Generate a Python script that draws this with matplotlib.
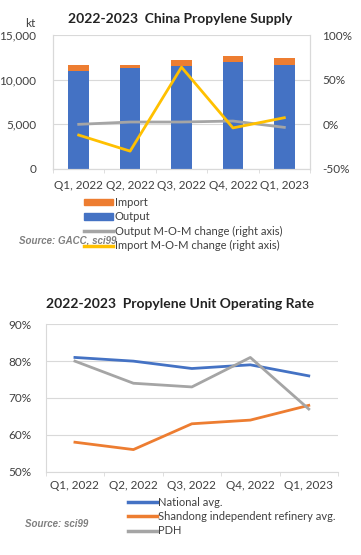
import numpy as np
import matplotlib.pyplot as plt
from matplotlib.ticker import FuncFormatter
from matplotlib.patches import Patch
from matplotlib.lines import Line2D

plt.rcParams['font.family'] = ['Lato', 'DejaVu Sans']

# Данные: поставки пропилена
quarters = ["Q1, 2022", "Q2, 2022", "Q3, 2022", "Q4, 2022", "Q1, 2023"]
output_kt = [10970, 11350, 11530, 12010, 11640]
import_kt = [670, 290, 670, 640, 780]
output_mom = [0.0, 2.6, 2.6, 3.7, -3.4]
import_mom = [-12.0, -30.0, 64.0, -4.0, 7.4]

# Данные: загрузка мощностей
national = [81, 80, 78, 79, 76]
shandong = [58, 56, 63, 64, 68]
pdh = [80, 74, 73, 81, 67]

BLUE = "#4472C4"
ORANGE = "#ED7D31"
GRAY = "#A5A5A5"
YELLOW = "#FFC000"
GRID = "#D9D9D9"
TXT = "#404040"

fig = plt.figure(figsize=(3.61, 5.55), dpi=100)

# --- Верхний график ---
ax1 = fig.add_axes([0.1468, 0.6955, 0.712, 0.2414])
x = np.arange(len(quarters))
ax1.bar(x, output_kt, width=0.4, color=BLUE, zorder=2)
ax1.bar(x, import_kt, bottom=output_kt, width=0.4, color=ORANGE, zorder=2)
ax1.set_xlim(-0.5, len(quarters) - 0.5)
ax1.set_ylim(0, 15000)
ax1.set_yticks([0, 5000, 10000, 15000])
ax1.yaxis.set_major_formatter(FuncFormatter(lambda v, p: f"{int(v):,}"))
ax1.grid(axis="y", color=GRID, lw=0.8, zorder=0)
ax1.set_xticks(x)
ax1.set_xticklabels(quarters)
ax1.set_xticks(np.arange(-0.5, len(quarters)), minor=True)
ax1.tick_params(axis="x", which="major", length=0, pad=8, labelsize=8.5, colors=TXT)
ax1.tick_params(axis="x", which="minor", length=3, color=GRID)
ax1.tick_params(axis="y", length=0, labelsize=8.5, colors=TXT, pad=12)
ax1.spines["top"].set_visible(False)
for s in ["left", "right", "bottom"]:
    ax1.spines[s].set_color(GRID)

ax1r = ax1.twinx()
ax1r.plot(x, output_mom, color=GRAY, lw=2, zorder=3)
ax1r.plot(x, import_mom, color=YELLOW, lw=2, zorder=4)
ax1r.set_ylim(-50, 100)
ax1r.set_yticks([-50, 0, 50, 100])
ax1r.yaxis.set_major_formatter(FuncFormatter(lambda v, p: f"{int(v)}%"))
ax1r.tick_params(axis="y", length=0, labelsize=8.5, colors=TXT, pad=9)
ax1r.spines["top"].set_visible(False)
for s in ["left", "right", "bottom"]:
    ax1r.spines[s].set_color(GRID)

fig.text(0.5, 0.966, "2022-2023  China Propylene Supply", ha="center", va="center",
         fontsize=10, fontweight="bold", color="#222222")
fig.text(0.07, 0.957, "kt", ha="left", va="center", fontsize=8.5, color=TXT)

h1 = [Patch(color=ORANGE), Patch(color=BLUE),
      Line2D([], [], color=GRAY, lw=2.5), Line2D([], [], color=YELLOW, lw=2.5)]
l1 = ["Import", "Output", "Output M-O-M change (right axis)", "Import M-O-M change (right axis)"]
fig.legend(h1, l1, loc="upper left", bbox_to_anchor=(0.232, 0.645), frameon=False,
           fontsize=8, labelspacing=0.3, handlelength=2.6, handleheight=0.5,
           handletextpad=0.2, borderaxespad=0, borderpad=0,
           labelcolor=TXT)
fig.text(0.052, 0.567, "Source: GACC, sci99", ha="left", va="center", fontsize=7,
         fontstyle="italic", fontweight="bold", color="#7F7F7F", family="Liberation Sans")

# --- Нижний график ---
ax2 = fig.add_axes([0.1266, 0.1501, 0.8097, 0.2656])
ax2.plot(x, national, color=BLUE, lw=2, zorder=3)
ax2.plot(x, shandong, color=ORANGE, lw=2, zorder=3)
ax2.plot(x, pdh, color=GRAY, lw=2, zorder=3)
ax2.set_xlim(-0.5, len(quarters) - 0.5)
ax2.set_ylim(50, 90)
ax2.set_yticks([50, 60, 70, 80, 90])
ax2.yaxis.set_major_formatter(FuncFormatter(lambda v, p: f"{int(v)}%"))
ax2.grid(axis="y", color=GRID, lw=0.8, zorder=0)
ax2.set_xticks(x)
ax2.set_xticklabels(quarters)
ax2.set_xticks(np.arange(-0.5, len(quarters)), minor=True)
ax2.tick_params(axis="x", which="major", length=0, pad=6, labelsize=8.5, colors=TXT)
ax2.tick_params(axis="x", which="minor", length=3, color=GRID)
ax2.tick_params(axis="y", length=0, labelsize=8.5, colors=TXT, pad=10)
for s in ["top", "right"]:
    ax2.spines[s].set_visible(False)
for s in ["left", "bottom"]:
    ax2.spines[s].set_color(GRID)

fig.text(0.5, 0.452, "2022-2023  Propylene Unit Operating Rate", ha="center", va="center",
         fontsize=10, fontweight="bold", color="#222222")

h2 = [Line2D([], [], color=BLUE, lw=2.5), Line2D([], [], color=ORANGE, lw=2.5),
      Line2D([], [], color=GRAY, lw=2.5)]
l2 = ["National avg.", "Shandong independent refinery avg.", "PDH"]
fig.legend(h2, l2, loc="upper left", bbox_to_anchor=(0.355, 0.105), frameon=False,
           fontsize=8, labelspacing=0.3, handlelength=2.6,
           handletextpad=0.05, borderaxespad=0, borderpad=0, labelcolor=TXT)
fig.text(0.07, 0.056, "Source: sci99", ha="left", va="center", fontsize=7,
         fontstyle="italic", fontweight="bold", color="#7F7F7F", family="Liberation Sans")

plt.savefig("out.png", dpi=100)
